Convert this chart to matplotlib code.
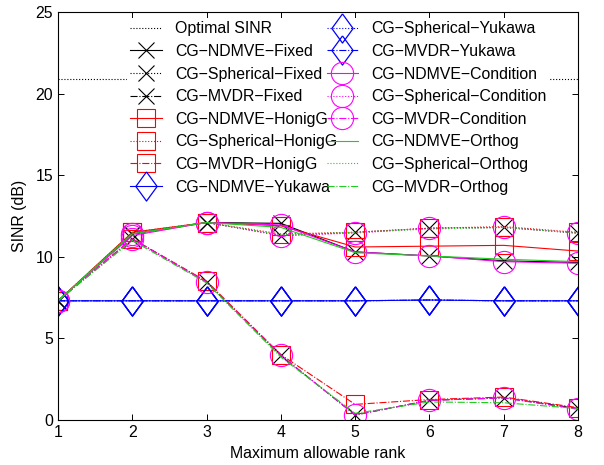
import numpy as np
import matplotlib.pyplot as plt

plt.rcParams['font.family'] = ['Liberation Sans', 'DejaVu Sans']

# data
ranks = [1, 2, 3, 4, 5, 6, 7, 8]
optimal_sinr = 20.9

ndmve_fixed = [7.3, 11.4, 12.1, 12.05, 10.3, 10.05, 9.75, 9.65]
ndmve_honig = [7.3, 11.5, 12.1, 11.9, 10.6, 10.65, 10.7, 10.35]
ndmve_yukawa = [7.3, 7.3, 7.3, 7.3, 7.3, 7.35, 7.3, 7.3]
ndmve_cond = [7.3, 11.3, 12.1, 11.95, 10.3, 10.05, 9.7, 9.6]
ndmve_orth = [7.3, 11.4, 12.1, 11.8, 10.25, 10.05, 9.85, 9.7]

sph_fixed = [7.3, 11.4, 12.1, 11.3, 11.5, 11.75, 11.8, 11.45]
sph_honig = [7.3, 11.5, 12.1, 11.4, 11.5, 11.75, 11.85, 11.5]
sph_yukawa = [7.3, 7.3, 7.3, 7.3, 7.3, 7.35, 7.3, 7.3]
sph_cond = [7.3, 11.4, 12.1, 11.3, 11.45, 11.75, 11.8, 11.45]
sph_orth = [7.3, 11.45, 12.1, 11.35, 11.5, 11.7, 11.8, 11.45]

mvdr_fixed = [7.3, 11.1, 8.45, 3.95, 0.3, 1.2, 1.35, 0.7]
mvdr_honig = [7.3, 11.1, 8.5, 4.0, 0.95, 1.25, 1.4, 0.75]
mvdr_yukawa = [7.3, 7.3, 7.3, 7.3, 7.3, 7.35, 7.3, 7.3]
mvdr_cond = [7.3, 11.1, 8.45, 3.95, 0.3, 1.2, 1.35, 0.65]
mvdr_orth = [7.3, 11.0, 8.4, 3.85, 0.4, 1.1, 1.05, 0.7]

green = '#1fcc1f'
diamond = [(0, 1), (0.73, 0), (0, -1), (-0.73, 0), (0, 1)]
styles = {'Fixed': dict(color='k', marker='x', ms=11, mew=0.8),
          'HonigG': dict(color='r', marker='s', ms=13, mew=0.8, mfc='none'),
          'Yukawa': dict(color='b', marker=diamond, ms=21, mew=0.9, mfc='none'),
          'Condition': dict(color='#ff00ff', marker='o', ms=16, mew=0.8, mfc='none'),
          'Orthog': dict(color=green)}
groups = [('NDMVE', '-', [ndmve_fixed, ndmve_honig, ndmve_yukawa, ndmve_cond, ndmve_orth]),
          ('Spherical', ':', [sph_fixed, sph_honig, sph_yukawa, sph_cond, sph_orth]),
          ('MVDR', '-.', [mvdr_fixed, mvdr_honig, mvdr_yukawa, mvdr_cond, mvdr_orth])]
variants = ['Fixed', 'HonigG', 'Yukawa', 'Condition', 'Orthog']

fs = 11.4
fig = plt.figure(figsize=(6.04, 4.65), dpi=100)
ax = fig.add_axes([0.096, 0.097, 0.861, 0.877])

ax.plot(ranks, [optimal_sinr] * len(ranks), 'k:', lw=0.8, label='Optimal SINR')
# same plotting order as the legend: variant by variant, each method inside
for v_i, v in enumerate(variants):
    for name, ls, series in groups:
        ax.plot(ranks, series[v_i], linestyle=ls, lw=0.8,
                label='CG\u2212' + name + '\u2212' + v, **styles[v])

ax.set_xlim(1, 8)
ax.set_ylim(0, 25)
ax.set_xticks(ranks)
ax.set_yticks([0, 5, 10, 15, 20, 25])
ax.tick_params(direction='in', top=True, right=True, labelsize=fs, length=4, width=0.7)
for s in ax.spines.values():
    s.set_linewidth(0.8)
ax.set_xlabel('Maximum allowable rank', fontsize=fs, labelpad=4.5)
ax.set_ylabel('SINR (dB)', fontsize=fs, labelpad=6)

leg = ax.legend(ncol=2, loc='upper left', bbox_to_anchor=(0.133, 0.985), fontsize=fs,
                numpoints=1, handlelength=2.0, handletextpad=0.82, columnspacing=-0.66,
                labelspacing=0.48, borderpad=0.2, borderaxespad=0, frameon=True,
                fancybox=False, edgecolor='none', facecolor='white', framealpha=1)

plt.savefig('out.png', dpi=100)
